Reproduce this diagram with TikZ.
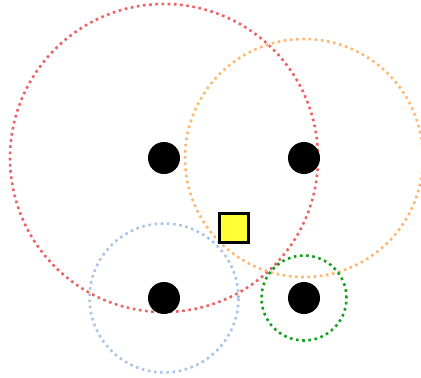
\documentclass[tikz,border=0pt]{standalone}
\usepackage{tikz}
\usetikzlibrary{positioning}
\definecolor{rangered}{RGB}{236, 98, 100}
\definecolor{rangeorange}{RGB}{255, 182, 112}
\definecolor{rangeblue}{RGB}{170, 196, 232}
\definecolor{rangegreen}{RGB}{20, 160, 30}
\definecolor{targetyellow}{RGB}{255, 255, 51}
\tikzset{
    anchorpt/.style={circle, fill=black, inner sep=0pt, minimum size=32pt},
    rangering/.style={circle, draw, inner sep=0pt, line width=2.6pt, dash pattern=on 2.6pt off 3.6pt},
    targetbox/.style={rectangle, draw=black, fill=targetyellow, line width=2.6pt, inner sep=0pt, minimum size=29pt},
}

\begin{document}
\begin{tikzpicture}[x=1pt, y=-1pt]
    \useasboundingbox (0,0) rectangle (421,378);
    % range circles
    \node[rangering, draw=rangered, minimum size=308pt] (rangeA) at (164,158) {};
    \node[rangering, draw=rangeorange, minimum size=238pt] (rangeB) at (304,158) {};
    \node[rangering, draw=rangeblue, minimum size=149pt] (rangeC) at (164,298) {};
    \node[rangering, draw=rangegreen, minimum size=85pt] (rangeD) at (304,298) {};
    % anchors
    \node[anchorpt] (anchorA) at (164,158) {};
    \node[anchorpt] (anchorB) at (304,158) {};
    \node[anchorpt] (anchorC) at (164,298) {};
    \node[anchorpt] (anchorD) at (304,298) {};
    % estimated position
    \node[targetbox] (target) at (234,228) {};
\end{tikzpicture}
\end{document}
